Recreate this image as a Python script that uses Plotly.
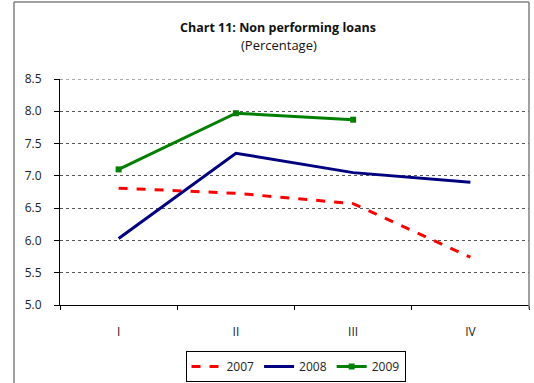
import plotly.graph_objects as go

quarters = ["I", "II", "III", "IV"]
npl_2007 = [6.81, 6.73, 6.57, 5.74]
npl_2008 = [6.03, 7.35, 7.05, 6.90]
npl_2009 = [7.10, 7.97, 7.87]

W, H = 534, 383
L, R, T, B = 60, 5, 79, 78
pw, ph = W - L - R, H - T - B


def px_x(p):
    return (p - L) / pw


def px_y(p):
    return (H - B - p) / ph


FONT = "Open Sans"
TXT = "#222222"

fig = go.Figure()
fig.add_trace(go.Scatter(x=quarters, y=npl_2007, name="2007", mode="lines",
                         line=dict(color="#ff0000", width=3, dash="dash")))
fig.add_trace(go.Scatter(x=quarters, y=npl_2008, name="2008", mode="lines",
                         line=dict(color="#000080", width=3)))
fig.add_trace(go.Scatter(x=quarters[:len(npl_2009)], y=npl_2009, name="2009",
                         mode="lines+markers",
                         line=dict(color="#008000", width=3),
                         marker=dict(symbol="square", size=6, color="#008000")))

fig.update_layout(
    width=W, height=H,
    margin=dict(l=L, r=R, t=T, b=B, autoexpand=False),
    paper_bgcolor="white", plot_bgcolor="white",
    font=dict(family=FONT, size=12, color=TXT),
    showlegend=True,
    legend=dict(orientation="h", x=px_x(295.5), xanchor="center",
                y=px_y(351), yanchor="top",
                bordercolor="#000000", borderwidth=1,
                font=dict(family=FONT, size=12, color=TXT),
                itemwidth=30, tracegroupgap=0),
    xaxis=dict(type="category", range=[-0.5, 3.5], showgrid=False,
               showline=True, linecolor="#000000", linewidth=1,
               ticks="outside", tickson="boundaries", ticklen=4,
               tickcolor="#000000", zeroline=False, ticklabelstandoff=16,
               tickfont=dict(family=FONT, size=12, color=TXT)),
    yaxis=dict(range=[5.0, 8.5], dtick=0.5, tickformat=".1f",
               showgrid=True, gridcolor="#555555", gridwidth=1, griddash="dot",
               showline=True, linecolor="#000000", linewidth=1,
               ticks="outside", ticklen=5, tickcolor="#000000",
               zeroline=False, ticklabelstandoff=10,
               tickfont=dict(family=FONT, size=12, color=TXT)),
    annotations=[
        dict(text="<b>Chart 11: Non performing loans</b>", xref="paper", yref="paper",
             x=px_x(278), y=px_y(27), xanchor="center", yanchor="middle",
             showarrow=False, font=dict(family=FONT, size=12.5, color="#111111")),
        dict(text="(Percentage)", xref="paper", yref="paper",
             x=px_x(279), y=px_y(45), xanchor="center", yanchor="middle",
             showarrow=False, font=dict(family=FONT, size=13, color="#111111")),
    ],
    shapes=[
        # outer frame of the chart
        dict(type="line", xref="paper", yref="paper", x0=px_x(14), x1=px_x(529),
             y0=px_y(2), y1=px_y(2), line=dict(color="#808080", width=1.5)),
        dict(type="line", xref="paper", yref="paper", x0=px_x(14), x1=px_x(14),
             y0=px_y(2), y1=px_y(383), line=dict(color="#808080", width=1.5)),
        dict(type="line", xref="paper", yref="paper", x0=px_x(529), x1=px_x(529),
             y0=px_y(2), y1=px_y(309), line=dict(color="#808080", width=1.5)),
        # top grid line at the axis maximum
        dict(type="line", xref="paper", yref="y", x0=0, x1=1, y0=8.5, y1=8.5,
             line=dict(color="#555555", width=1, dash="dot")),
    ],
)

fig.write_html("out.html")
